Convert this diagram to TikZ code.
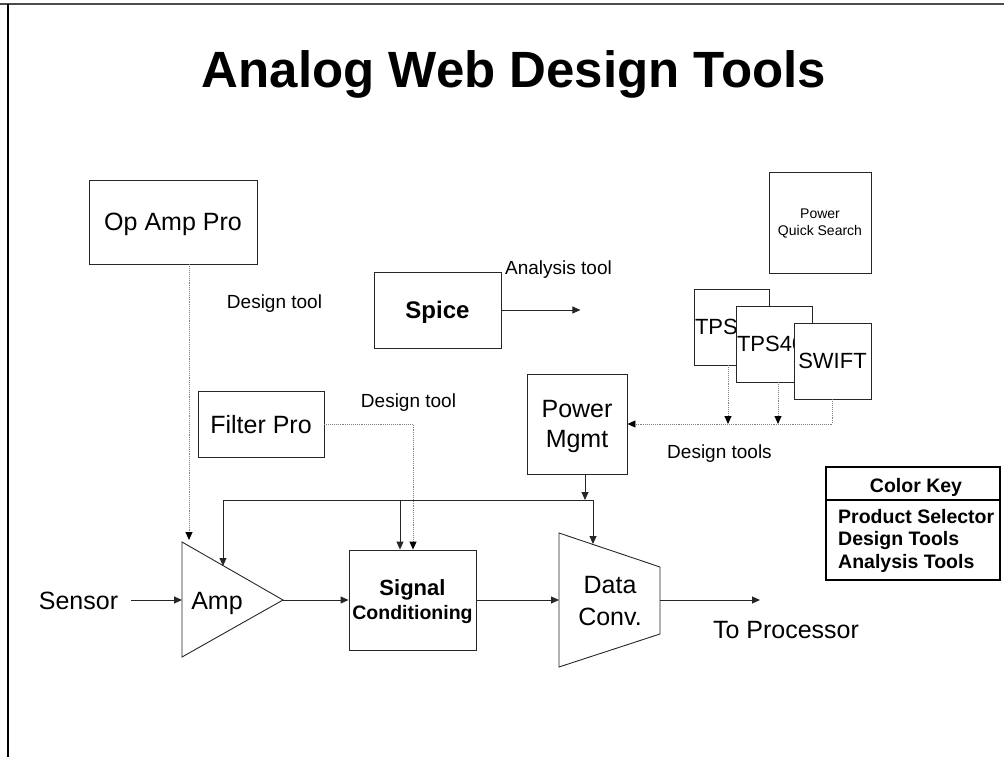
\documentclass[tikz,border=0pt]{standalone}
\usepackage{fontspec}
\setmainfont{Liberation Sans}
\usetikzlibrary{arrows.meta,positioning}

\begin{document}
\begin{tikzpicture}[x=1pt, y=-1pt,
    box/.style={draw=black!85, line width=0.9pt, fill=white, align=center, inner sep=0pt, text depth=0pt, font=\fontsize{25}{30}\selectfont},
    tpsbox/.style={box, align=left, inner xsep=1pt, minimum height=76pt, font=\fontsize{22}{26}\selectfont},
    lbl/.style={inner sep=0pt, anchor=base, font=\fontsize{19}{23}\selectfont},
    keytext/.style={inner sep=0pt, anchor=base west, font=\bfseries\fontsize{19.5}{23}\selectfont},
    arrow/.style={-{Triangle[length=8pt,width=7pt]}, line width=0.9pt, draw=black!85},
    dotarrow/.style={-{Triangle[length=8pt,width=7pt,black]}, densely dotted, line width=0.9pt, draw=gray},
    outline/.style={draw=black!85, line width=0.9pt}
]
\useasboundingbox (0,0) rectangle (1004,757);
% slide frame
\draw[gray!60!black, line width=1.5pt] (0,4) -- (1004,4);
\draw[black, line width=1.2pt] (8,4) -- (8,757);

\node[inner sep=0pt, anchor=base, font=\bfseries\fontsize{51}{60}\selectfont] (title) at (514,88) {Analog Web Design Tools};

% tool boxes
\node[box, minimum width=168pt, minimum height=84pt] (opamp) at (173,222) {Op Amp Pro};
\node[box, minimum width=127pt, minimum height=76pt, font=\bfseries\fontsize{24}{28}\selectfont] (spice) at (437.5,310) {Spice};
\node[box, minimum width=102pt, minimum height=101pt, font=\fontsize{14}{17}\selectfont] (pqs) at (820,222.5) {Power\\Quick Search};
\node[tpsbox, text width=73pt] (tpsa) at (731.5,327) {TPS6};
\node[tpsbox, text width=74pt] (tpsb) at (774,344) {TPS40};
\node[box, minimum width=77pt, minimum height=76pt, font=\fontsize{22}{26}\selectfont] (swift) at (832.5,361) {SWIFT};
\node[box, minimum width=100pt, minimum height=100pt] (pwr) at (577,424) {Power\\Mgmt};
\node[box, minimum width=126pt, minimum height=66pt] (filter) at (261,424) {Filter Pro};

% signal chain
\node[box, minimum width=127pt, minimum height=100pt, font=\bfseries\fontsize{22}{24}\selectfont] (sigcond) at (412.5,600) {Signal\\{\fontsize{19.5}{24}\selectfont Conditioning}};
\draw[outline] (182,542) coordinate (amptl) -- (283,600) coordinate (ampout) -- (182,657) -- cycle;
\coordinate (ampin) at (182,600);
\node[inner sep=0pt, anchor=base, font=\fontsize{25}{30}\selectfont] (amp) at (217,609) {Amp};
\draw[outline] (559,533) -- (660,567) -- (660,634) -- (559,667) -- cycle;
\coordinate (dcin) at (559,600);
\coordinate (dcout) at (660,600);
\node[align=center, inner sep=0pt, text depth=0pt, font=\fontsize{25}{32}\selectfont] (dconv) at (610,601) {Data\\Conv.};
\node[inner sep=0pt, anchor=base, font=\fontsize{25}{30}\selectfont] (sensor) at (78.5,609) {Sensor};
\node[inner sep=0pt, anchor=base, font=\fontsize{25}{30}\selectfont] (toproc) at (786,638) {To Processor};
\coordinate (procend) at (760,600);

% labels
\node[lbl] (dtopamp) at (274.5,308) {Design tool};
\node[lbl] (atspice) at (558.5,274) {Analysis tool};
\node[lbl] (dtfilter) at (408.5,407) {Design tool};
\node[lbl] (dtpwr) at (719.5,458) {Design tools};

% colour key
\node[draw, line width=2pt, minimum width=174pt, minimum height=113pt, inner sep=0pt] (key) at (913,523.5) {};
\coordinate (keyline) at (913,500);
\draw[line width=1.5pt] (key.west |- keyline) -- (key.east |- keyline);
\node[inner sep=0pt, anchor=base, font=\bfseries\fontsize{19.5}{23}\selectfont] (keyhead) at (916,492) {Color Key};
\node[keytext] (keyps) at (838,523) {Product Selector};
\node[keytext] (keydt) at (838,545) {Design Tools};
\node[keytext] (keyat) at (838,568) {Analysis Tools};

% main signal path
\draw[arrow, shorten <=13pt] (sensor.east |- ampin) -- (ampin);
\draw[arrow] (ampout) -- (sigcond.west |- ampout);
\draw[arrow] (sigcond.east |- dcin) -- (dcin);
\draw[arrow] (dcout) -- (procend);
\draw[arrow] (spice.east) -- ++(79,0) coordinate (spiceout);

% supply bus
\coordinate (busl) at (223,500);
\coordinate (busr) at (593,500);
\draw[arrow] (busl) -- (223,566);
\draw[arrow] (busl) -- (busr) -- (593,544);
\draw[arrow] ([xshift=-12.5pt]sigcond.north |- busl) -- ([xshift=-12.5pt]sigcond.north);
\draw[arrow] ([xshift=8pt]pwr.south) -- ([xshift=8pt]pwr.south |- busl);

% design tool links
\draw[dotarrow] ([xshift=16pt]opamp.south) -- (189,540);
\draw[dotarrow] (filter.east) -| ([xshift=0.5pt]sigcond.north);
\draw[dotarrow] (swift.south) |- (pwr.east);
\draw[dotarrow] ([xshift=-3.5pt]tpsa.south) -- ([xshift=-3.5pt]tpsa.south |- pwr.east);
\draw[dotarrow] ([xshift=4pt]tpsb.south) -- ([xshift=4pt]tpsb.south |- pwr.east);
\end{tikzpicture}
\end{document}
